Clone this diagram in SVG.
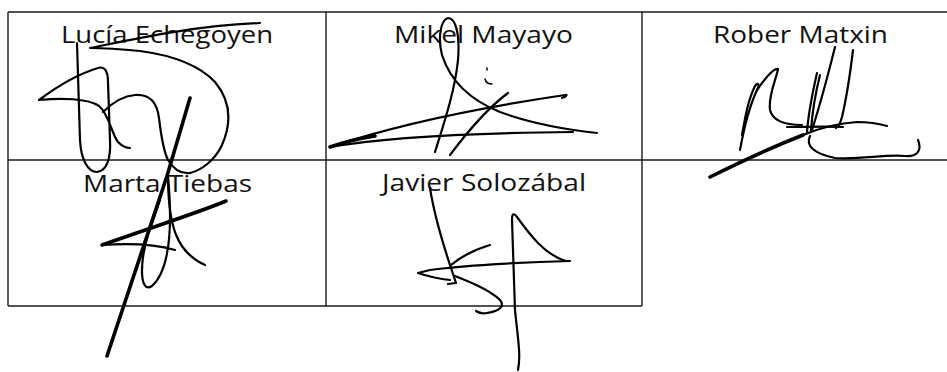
<svg xmlns="http://www.w3.org/2000/svg" width="947" height="372" viewBox="0 0 947 372">
<style>
.grid{stroke:#1a1a1a;stroke-width:1.4;fill:none}
.name{font-family:"Open Sans","Noto Sans","Liberation Sans",sans-serif;font-size:24px;fill:#111}
.sig{stroke:#000;stroke-width:2.2;fill:none;stroke-linecap:round;stroke-linejoin:round}
.thick{stroke-width:3.6}
.thin{stroke-width:1.5}
</style>
<rect width="947" height="372" fill="#fff"/>
<g id="table" class="grid">
<line x1="8" y1="12" x2="947" y2="12"/>
<line x1="8" y1="160" x2="947" y2="160"/>
<line x1="8" y1="306" x2="642" y2="306"/>
<line x1="8" y1="12" x2="8" y2="306"/>
<line x1="326" y1="12" x2="326" y2="306"/>
<line x1="642" y1="12" x2="642" y2="306"/>
</g>
<g id="cell-lucia">
<text class="name" x="61" y="43" textLength="212" lengthAdjust="spacingAndGlyphs">Lucía Echegoyen</text>
<path class="sig" d="M103,112 C112,103 122,96 135,95 C150,94 157,102 159,118 C161,135 163,150 168,160 C174,170 182,174 190,173 C202,170 215,160 222,145 C232,122 230,100 215,82 C198,64 170,55 140,51 C120,49 100,48 90,48 C130,40 190,26 260,23"/>
<path class="sig" d="M77,43 L80,140 C81,160 88,172 97,172 C107,171 111,158 110,140 L108,82 C108,70 104,66 98,68 C78,74 55,88 39,100 C60,98 88,98 99,106 C109,114 112,135 118,142 C122,146 126,148 130,148"/>
</g>
<g id="cell-mikel">
<text class="name" x="394" y="43" textLength="179" lengthAdjust="spacingAndGlyphs">Mikel Mayayo</text>
<path class="sig" d="M435,152 C445,120 455,90 458,60 C460,35 456,18 448,18 C440,20 438,40 442,55 C450,80 470,100 500,112 C530,123 570,130 597,133"/>
<path class="sig" d="M330,147 C375,132 450,112 565,95 C568,94 566,97 562,98"/>
<path class="sig thick" d="M330,147 C350,140 362,138 375,136"/>
<path class="sig" d="M330,147 C380,138 450,133 573,132"/>
<path class="sig" d="M450,155 C465,135 485,110 508,93"/>
<path class="sig thin" d="M487,68 L487,70 M485,79 C486,83 489,84 492,84"/>
</g>
<g id="cell-rober">
<text class="name" x="713" y="43" textLength="175" lengthAdjust="spacingAndGlyphs">Rober Matxin</text>
<path class="sig" d="M740,150 C744,128 750,105 757,90 C760,84 758,82 755,86 C748,100 745,118 742,135"/>
<path class="sig" d="M757,90 C764,80 773,68 778,69 C776,80 768,96 770,110 C773,122 786,125 802,125"/>
<path class="sig" d="M817,73 C812,95 808,115 807,133 M820,75 C815,95 812,115 811,131"/>
<path class="sig" d="M835,47 C828,75 820,105 812,130"/>
<path class="sig" d="M853,50 C850,75 846,100 842,117 C840,124 838,127 836,128"/>
<path class="sig" d="M787,127 C805,127 825,126 843,127"/>
<path class="sig thick" d="M710,177 C740,162 770,148 803,135"/>
<path class="sig" d="M803,135 C820,128 840,123 857,122 C870,122 880,124 887,126"/>
<path class="sig" d="M810,136 C805,146 815,154 835,158 C860,160 885,154 905,156 C918,157 922,150 918,140"/>
</g>
<g id="cell-marta">
<text class="name" x="83" y="192" textLength="169" lengthAdjust="spacingAndGlyphs">Marta Tiebas</text>
<path class="sig thick" d="M190,98 L167,176 L107,356"/>
<path class="sig" d="M168,176 C172,220 172,268 152,286 C140,294 139,265 148,235 L160,200"/>
<path class="sig thick" d="M226,201 C200,212 150,228 102,245"/>
<path class="sig" d="M102,245 C130,243 158,245 175,250 M168,182 C169,225 176,252 205,265"/>
</g>
<g id="cell-javier">
<text class="name" x="382" y="191" textLength="204" lengthAdjust="spacingAndGlyphs">Javier Solozábal</text>
<path class="sig" d="M430,188 C435,220 445,250 451,268 L456,283 L448,284"/>
<path class="sig" d="M451,265 C462,256 476,249 490,245"/>
<path class="sig" d="M570,261 C520,262 460,266 430,270 L418,273 C430,277 440,279 450,280"/>
<path class="sig" d="M455,276 C470,282 490,290 500,300 C505,306 500,311 487,313 C482,314 479,313 476,311"/>
<path class="sig" d="M518,370 C521,355 518,340 515,310 L512,220 C512,213 514,213 517,217 C530,235 545,255 566,261"/>
</g>
</svg>
